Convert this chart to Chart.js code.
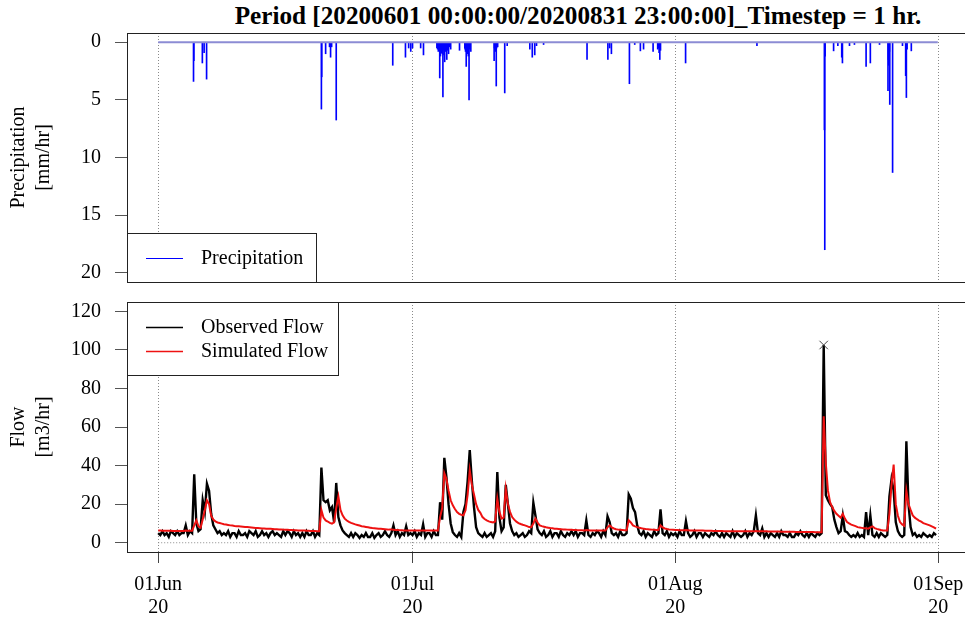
<!DOCTYPE html>
<html>
<head>
<meta charset="utf-8">
<script src="https://cdn.jsdelivr.net/npm/chart.js@4.4.0/dist/chart.umd.min.js"></script>
<style>
  html, body { margin: 0; padding: 0; background: #fff; width: 965px; height: 620px; overflow: hidden; position: relative; }
  #title { position: absolute; top: 3px; left: 578px; transform: translateX(-50%); white-space: nowrap;
           font: bold 25.2px/1 'Liberation Serif', 'Times New Roman', serif; color: #000; }
  canvas { position: absolute; left: 0; }
  #precip { top: 0; }
  #flow { top: 290px; }
</style>
</head>
<body>
<div id="title">Period [20200601 00:00:00/20200831 23:00:00]_Timestep = 1 hr.</div>
<canvas id="precip" width="1000" height="290"></canvas>
<canvas id="flow" width="1000" height="330"></canvas>
<script>
// hours counted from 2020-06-01 00:00
const monthTicks = [0, 720, 1464, 2208];
const monthLabels = [['01Jun', '20'], ['01Jul', '20'], ['01Aug', '20'], ['01Sep', '20']];
const precipTicks = [0, 5, 10, 15, 20];
const flowTicks = [0, 20, 40, 60, 80, 100, 120];

// hourly rainfall, only the wet hours
const precipHour = [100, 101, 125, 130, 137, 462, 463, 474, 485, 488, 491, 504, 664, 700, 709, 715, 720,
  743, 751, 789, 791, 793, 795, 797, 799, 801, 803, 804, 806, 808, 809, 811, 812, 814, 817, 819, 820, 822, 825, 828,
  853, 868, 869, 870, 872, 875, 877, 878, 880, 882, 885,
  951, 952, 954, 955, 957, 958, 961, 981, 988, 1052, 1059, 1066, 1071, 1091, 1214, 1273, 1278, 1283,
  1334, 1349, 1365, 1374, 1401, 1414, 1416, 1418, 1420, 1422, 1493, 1695, 1886, 1887, 1888, 1912, 1924,
  1935, 1936, 1937, 1957, 1971, 2004, 2016, 2042, 2066, 2067, 2068, 2069, 2070, 2071, 2079, 2107,
  2116, 2117, 2118, 2120, 2132];
const precipMm = [3.4, 1.6, 1.8, 0.9, 3.2, 5.8, 3.0, 1.0, 0.4, 1.3, 0.4, 6.75, 2.0, 1.3, 0.5, 0.8, 0.5,
  0.5, 1.1, 0.5, 0.6, 0.8, 0.6, 3.1, 1.2, 0.9, 0.9, 1.0, 4.75, 0.7, 1.1, 1.7, 0.6, 0.8, 1.5, 0.7, 0.5, 1.0, 0.4, 0.6,
  0.7, 0.5, 0.6, 0.8, 2.1, 1.0, 0.7, 1.2, 5.0, 0.6, 0.8,
  1.6, 0.5, 0.8, 0.6, 3.8, 0.5, 0.4, 4.4, 0.3, 0.6, 1.3, 1.1, 0.3, 0.2, 1.5, 1.5, 0.5, 1.0,
  3.6, 0.2, 0.75, 0.6, 0.8, 0.6, 0.5, 0.9, 1.5, 0.7, 1.8, 0.3, 7.6, 18.0, 1.2, 0.75, 0.3,
  1.3, 0.9, 1.8, 0.3, 0.2, 2.1, 1.8, 0.2, 4.2, 1.5, 2.0, 1.2, 0.8, 5.4, 11.3, 0.3,
  2.9, 1.4, 4.8, 0.6, 0.75];

// flow every 6 hours, one row per day
const flowStepHours = 6;
const observedFlow = [
  5, 4, 6, 4,   5, 3, 6, 5,   4, 6, 4, 5,   5, 9, 4, 6,   5, 35.5, 10, 6,
  7, 22, 16, 30.6,   27, 15, 9, 7,   5, 6, 4, 5,   4, 6, 3, 5,   5, 3, 6, 4,
  4, 5, 3, 6,   5, 4, 6, 3,   4, 6, 4, 5,   3, 5, 6, 4,   5, 4, 3, 6,
  4, 6, 5, 3,   6, 4, 5, 3,   5, 3, 6, 4,   4, 6, 3, 5,   4, 39, 22, 21,
  22, 16.8, 18.5, 10.7,   31, 13.3, 9, 6.4,   5, 4, 3, 5,   3, 5, 4, 2.5,   4, 3, 5, 3,
  3, 5, 2.5, 4,   5, 3, 4, 6,   4, 3, 5, 9,   4, 6, 3, 5,   4, 8.5, 4, 5,
  4, 6, 3, 5,   4, 9.5, 3, 5,   5, 3, 6, 4,   4, 21, 12, 44,   34, 20, 10, 5.5,
  4, 3, 5, 3,   15.9, 20, 32, 48,   32, 18.5, 8.1, 5,   4, 3, 5, 3,   4, 5, 3, 6,
  36.7, 13, 6, 8,   30, 20, 10, 6,   4, 5, 3, 4,   5, 3, 4, 6,   5, 20.8, 14, 7,
  5, 4, 6, 3,   4, 6, 3, 5,   5, 3, 6, 4,   3, 5, 4, 6,   4, 6, 3, 5,
  5, 4, 11.6, 4,   3, 5, 4, 6,   5, 3, 6, 4,   13.7, 10.7, 5, 4,   5, 3, 6, 4,
  4, 5, 25, 22.8,   18, 15.9, 9, 5,   4, 6, 3, 5,   4, 3, 6, 4,   5, 17.3, 5, 4,
  6, 3, 5, 4,   5, 3, 6, 4,   4, 11.2, 5, 3,   4, 6, 3, 5,   5, 3, 5, 4,
  3, 5, 4, 6,   4, 3, 5, 3,   5, 4, 3, 6,   3, 5, 4, 3,   4, 6, 3, 5,
  4, 6, 14.2, 5,   4, 7.4, 3, 5,   3, 5, 4, 3,   5, 3, 6, 4,   4, 3, 5, 3,
  3, 5, 4, 6,   4, 3, 5, 3,   5, 4, 3, 5,   4, 5, 102.5, 24.6,   22, 20, 18.5, 12,
  8.1, 5, 6, 14,   6, 5.5, 4, 3,   4, 3, 5, 3,   4, 3, 15.9, 4,   14.2, 4, 3, 5,
  3, 5, 4, 3,   4, 24, 33, 27,   10.7, 6, 4, 3,   4, 52.6, 20, 8.1,   4, 5, 3, 4,
  3, 5, 4, 3,   4, 3, 5, 4
];
const simulatedFlow = [
  6.3, 6.3, 6.2, 6.2,   6.2, 6.2, 6.2, 6.1,   6.1, 6.1, 6.1, 6.1,   6.1, 6.3, 6.2, 6.2,   6.2, 9, 11.6, 8.5,
  7.8, 12, 17, 22,   20, 14, 12, 11,   10.5, 10.2, 9.9, 9.6,   9.4, 9.2, 9.0, 8.9,   8.7, 8.6, 8.5, 8.4,
  8.3, 8.2, 8.1, 8.0,   7.9, 7.8, 7.7, 7.6,   7.5, 7.4, 7.4, 7.3,   7.2, 7.2, 7.1, 7.0,   7.0, 6.9, 6.9, 6.8,
  6.7, 6.7, 6.6, 6.6,   6.5, 6.5, 6.4, 6.4,   6.3, 6.3, 6.2, 6.2,   6.1, 6.1, 6.1, 6.0,   6.0, 17, 13, 11.6,
  11, 10.3, 9.9, 10.5,   18, 24, 17, 14.2,   12.5, 11.5, 10.8, 10.3,   9.9, 9.5, 9.2, 8.9,   8.6, 8.4, 8.2, 8.0,
  7.8, 7.6, 7.5, 7.4,   7.3, 7.2, 7.1, 7.0,   6.9, 6.8, 6.8, 6.7,   6.6, 6.6, 6.5, 6.5,   6.4, 6.4, 6.4, 6.4,
  6.4, 6.4, 6.4, 6.4,   6.3, 6.3, 6.3, 6.3,   6.3, 6.3, 6.3, 6.3,   6.3, 13.3, 18, 36,   33, 27, 22, 19.4,
  17.5, 15.9, 15, 14.5,   14.2, 16.8, 25, 37.6,   30, 25, 20, 17,   15.5, 13.3, 12.3, 11.6,   11.1, 10.7, 10.5, 11,
  22.8, 16, 12.5, 13,   28, 20, 16, 13.3,   12, 10.9, 10.2, 9.7,   9.3, 9.0, 8.6, 8.1,   8.0, 10, 12.5, 10.5,
  9.0, 8.6, 8.3, 8.0,   7.8, 7.6, 7.5, 7.3,   7.2, 7.1, 7.0, 6.9,   6.9, 6.8, 6.7, 6.7,   6.6, 6.6, 6.5, 6.5,
  6.5, 6.4, 6.6, 6.5,   6.4, 6.4, 6.3, 6.3,   6.3, 6.3, 6.3, 6.3,   8, 9, 8, 7.4,   7.0, 6.8, 6.7, 6.6,
  6.5, 6.5, 11.6, 10.5,   9, 8.5, 8.1, 7.8,   7.5, 7.3, 7.1, 7.0,   6.9, 6.8, 6.7, 6.6,   6.6, 9, 8, 7.4,
  7.1, 6.9, 6.8, 6.7,   6.6, 6.6, 6.5, 6.5,   6.5, 6.6, 6.5, 6.4,   6.4, 6.4, 6.3, 6.3,   6.3, 6.3, 6.2, 6.2,
  6.2, 6.2, 6.1, 6.1,   6.1, 6.1, 6.1, 6.0,   6.0, 6.0, 6.0, 6.0,   6.0, 5.9, 5.9, 5.9,   5.9, 5.9, 5.9, 5.9,
  5.9, 5.9, 6.1, 6.0,   5.9, 6.0, 5.9, 5.9,   5.8, 5.8, 5.8, 5.8,   5.8, 5.8, 5.7, 5.7,   5.7, 5.7, 5.7, 5.7,
  5.7, 5.6, 5.6, 5.6,   5.6, 5.6, 5.6, 5.6,   5.6, 5.6, 5.5, 5.5,   5.5, 5.5, 65.6, 41,   27, 21, 18.5, 16.5,
  15, 14, 13, 15,   12.5, 10.7, 10, 9.4,   9, 8.6, 8.1, 7.9,   7.7, 7.5, 7.5, 7.3,   8, 8.5, 7.6, 7.2,
  6.9, 6.6, 6.4, 6.4,   6.4, 15, 30, 40.5,   20, 14, 10.7, 9.5,   8.8, 27, 20, 17,   14.2, 13, 12.2, 11.5,
  10.9, 10.2, 9.8, 9.4,   9.0, 8.5, 8.0, 7.3
];

const serif = "'Liberation Serif', 'Times New Roman', serif";
Chart.defaults.font.family = serif;
Chart.defaults.font.size = 20;
Chart.defaults.color = '#000';

const lastHour = 2207;
const asPoints = (vals) => vals.map((v, i) => ({ x: i * flowStepHours, y: v }));

// R-style box around the plot region plus a boxed legend in one corner
const framePlugin = {
  id: 'frame',
  afterDraw(chart, args, o) {
    const { ctx, chartArea: a } = chart;
    const L = Math.round(a.left), T = Math.round(a.top), B = Math.round(a.bottom), R = Math.round(a.right);
    ctx.save();
    ctx.lineWidth = 1;
    ctx.strokeStyle = '#222';
    ctx.strokeRect(L + 0.5, T + 0.5, R - L, B - T);

    const items = chart.data.datasets.filter(d => d.label);
    const h = 25 + 24 * items.length;
    const top = o.corner === 'bottom' ? B - h : T;
    ctx.fillStyle = '#fff';
    ctx.fillRect(L + 0.5, top + 0.5, o.width, h);
    ctx.strokeRect(L + 0.5, top + 0.5, o.width, h);
    ctx.font = '20px ' + serif;
    ctx.textBaseline = 'middle';
    items.forEach((d, i) => {
      const y = Math.round(top + 25 + 24 * i) + 0.5;
      ctx.strokeStyle = d.borderColor || d.backgroundColor;
      ctx.lineWidth = d.legendWidth || 1.5;
      ctx.beginPath();
      ctx.moveTo(L + 19, y);
      ctx.lineTo(L + 56, y);
      ctx.stroke();
      ctx.fillStyle = '#000';
      ctx.fillText(d.label, L + 74, y);
    });
    ctx.restore();
  }
};

function xScale(showLabels) {
  return {
    type: 'linear',
    min: -88.3,
    max: 2295.3,
    offset: false,
    afterBuildTicks: s => { s.ticks = monthTicks.map(v => ({ value: v })); },
    grid: { offset: false, color: '#8a8a8a', lineWidth: 1, drawTicks: showLabels, tickLength: 11, tickColor: '#444' },
    border: { display: false, dash: [1, 2] },
    ticks: {
      display: showLabels, autoSkip: false, maxRotation: 0, padding: 10,
      font: { size: 20, lineHeight: 1.17 },
      callback: (v, i) => monthLabels[i]
    },
    afterFit: s => {
      s.height = showLabels ? 68 : 0;
      s.paddingLeft = 0;
      s.paddingRight = 0;
    }
  };
}

function yScale(min, max, ticks, title, reverse) {
  return {
    reverse: reverse,
    min: min,
    max: max,
    afterBuildTicks: s => { s.ticks = ticks.map(v => ({ value: v })); },
    grid: { drawOnChartArea: false, tickLength: 12, tickColor: '#555' },
    border: { display: false },
    ticks: { padding: 14, font: { size: 20 } },
    title: { display: true, text: title, padding: { top: 6, bottom: 0 }, font: { size: 20, lineHeight: 1.25 } },
    afterFit: s => {
      s.width = 127;
      s.paddingTop = 0;
      s.paddingBottom = 0;
    }
  };
}

const common = {
  responsive: false,
  animation: false,
  devicePixelRatio: 1,
  events: [],
};

new Chart(document.getElementById('precip'), {
  type: 'bar',
  data: {
    datasets: [
      {
        type: 'line',
        data: [{ x: 0, y: 0 }, { x: lastHour, y: 0 }],
        borderColor: '#8c8cd4',
        borderWidth: 2,
        pointRadius: 0
      },
      {
        label: 'Precipitation',
        data: precipHour.map((h, i) => ({ x: h, y: precipMm[i] })),
        backgroundColor: '#0000ff',
        barThickness: 1,
        legendWidth: 1
      }
    ]
  },
  options: Object.assign({}, common, {
    layout: { padding: { left: 0, top: 33, right: 31, bottom: 8 } },
    scales: {
      x: xScale(false),
      y: yScale(-0.8, 20.8, precipTicks, ['Precipitation', '[mm/hr]'], true)
    },
    plugins: {
      legend: { display: false },
      tooltip: { enabled: false },
      frame: { corner: 'bottom', width: 189 }
    }
  }),
  plugins: [framePlugin]
});

const peakFlow = Math.max(...observedFlow);
const peakIndex = observedFlow.indexOf(peakFlow);

new Chart(document.getElementById('flow'), {
  type: 'line',
  data: {
    datasets: [
      {
        label: 'Observed Flow',
        data: asPoints(observedFlow),
        borderColor: '#000',
        borderWidth: 2.4,
        legendWidth: 1.6,
        pointRadius: 0,
        order: 2
      },
      {
        label: 'Simulated Flow',
        data: asPoints(simulatedFlow),
        borderColor: '#ee1111',
        borderWidth: 2,
        pointRadius: 0,
        order: 1
      },
      {
        data: [{ x: 0, y: 0 }, { x: lastHour, y: 0 }],
        borderColor: '#8a8a8a',
        borderWidth: 1,
        borderDash: [1, 2],
        pointRadius: 0,
        order: 3
      },
      {
        data: [{ x: peakIndex * flowStepHours, y: peakFlow }],
        showLine: false,
        pointStyle: 'crossRot',
        pointRadius: 6,
        borderColor: '#444',
        borderWidth: 1,
        order: 0
      }
    ]
  },
  options: Object.assign({}, common, {
    layout: { padding: { left: 0, top: 12, right: 31, bottom: 0 } },
    scales: {
      x: xScale(true),
      y: yScale(-4.8, 124.8, flowTicks, ['Flow', '[m3/hr]'], false)
    },
    plugins: {
      legend: { display: false },
      tooltip: { enabled: false },
      frame: { corner: 'top', width: 211 }
    }
  }),
  plugins: [framePlugin]
});
</script>
</body>
</html>
